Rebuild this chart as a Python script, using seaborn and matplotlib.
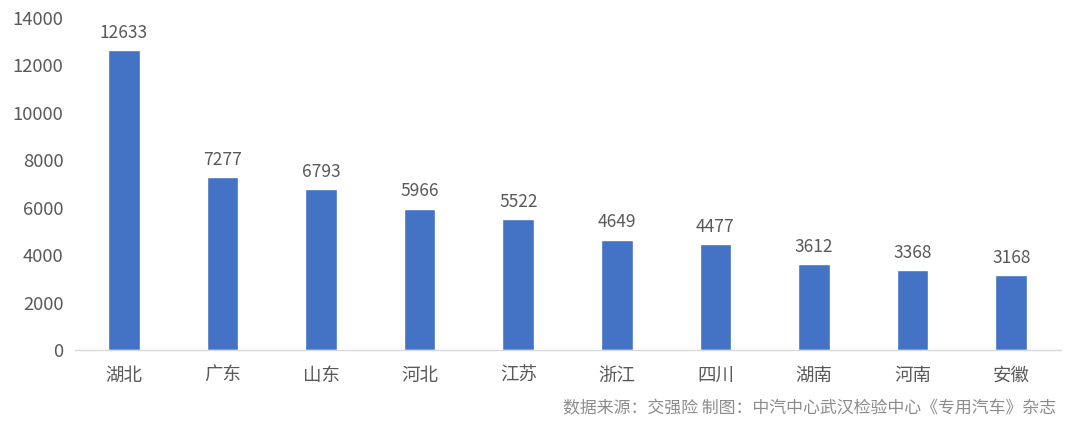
import matplotlib
matplotlib.use("Agg")
import matplotlib.pyplot as plt
import pandas as pd
import seaborn as sns

# ==============================
# Dados
# ==============================
provincias = ['湖北', '广东', '山东', '河北', '江苏', '浙江', '四川', '湖南', '河南', '安徽']
valores = [12633, 7277, 6793, 5966, 5522, 4649, 4477, 3612, 3368, 3168]
yticks = [0, 2000, 4000, 6000, 8000, 10000, 12000, 14000]
fonte = '数据来源：交强险 制图：中汽中心武汉检验中心《专用汽车》杂志'

df = pd.DataFrame({'provincia': provincias, 'valor': valores})

sns.set_style("white")
plt.rcParams['font.family'] = ['Noto Sans CJK SC', 'DejaVu Sans']

cor_texto = '#595959'

fig = plt.figure(figsize=(10.8, 4.3), dpi=100)
ax = fig.add_axes([0.069, 0.186, 0.913, 0.772])

sns.barplot(data=df, x='provincia', y='valor', color='#4472C4',
            saturation=1, width=0.32, ax=ax)

# rótulos de valor acima das barras
for i, v in enumerate(valores):
    ax.annotate(str(v), (i, v), xytext=(0, 6), textcoords='offset points',
                ha='center', va='bottom', fontsize=12.5, color=cor_texto)

ax.set_ylim(0, 14000)
ax.set_xlim(-0.5, len(provincias) - 0.5)
ax.set_yticks(yticks)
ax.set_xlabel('')
ax.set_ylabel('')
ax.tick_params(axis='both', length=0, labelsize=13.3, colors=cor_texto)
ax.tick_params(axis='x', pad=12)
ax.tick_params(axis='y', pad=8)

for lado in ['top', 'right', 'left']:
    ax.spines[lado].set_visible(False)
ax.spines['bottom'].set_color('#d9d9d9')
ax.spines['bottom'].set_linewidth(1)

fig.text(0.978, 0.05, fonte, ha='right', va='center', fontsize=12.2, color='#8c8c8c')

fig.savefig('out.png', dpi=100)
